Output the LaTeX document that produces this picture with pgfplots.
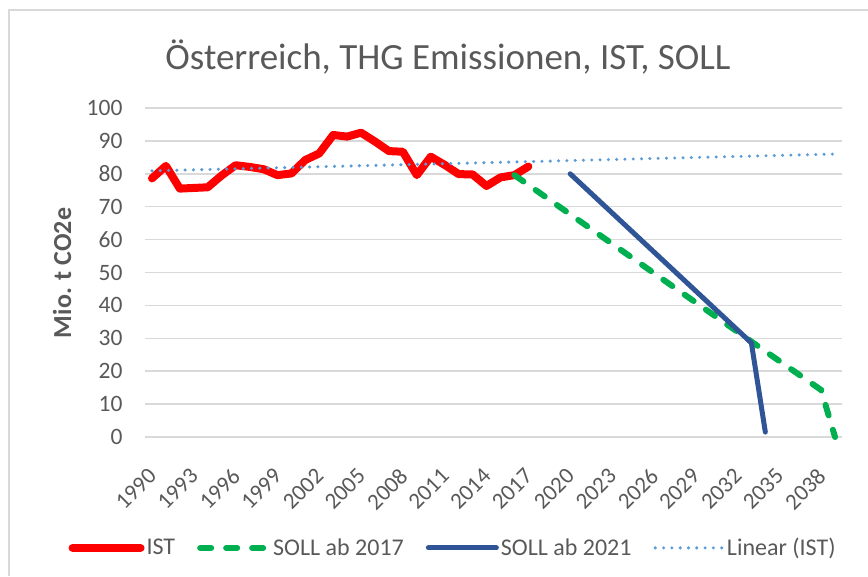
\documentclass[border=0pt]{standalone}
\usepackage{fontspec}
\setmainfont{Carlito}
\usepackage{pgfplots}
\pgfplotsset{compat=1.18}
\definecolor{txt}{HTML}{595959}
\definecolor{gridc}{HTML}{D9D9D9}
\definecolor{istred}{HTML}{FF0000}
\definecolor{sollgreen}{HTML}{00B050}
\definecolor{sollblue}{HTML}{2F5597}
\definecolor{trendc}{HTML}{5B9BD5}
\begin{document}
\begin{tikzpicture}
\path[use as bounding box] (0,0) rectangle (868pt,576pt);
\draw[gridc, line width=1.5pt] (9pt,0pt) -- (9pt,566pt) -- (868pt,566pt);
\node[txt, font=\fontsize{37}{44}\selectfont] at (448pt,519pt) {Österreich, THG Emissionen, IST, SOLL};
\node[txt, rotate=90, font=\fontsize{26}{31}\selectfont\bfseries] at (62pt,303pt) {Mio. t CO2e};
\begin{axis}[
  at={(145pt,139pt)}, anchor=south west,
  scale only axis, width=697pt, height=329pt,
  xmin=1989.5, xmax=2039.5, ymin=0, ymax=100,
  xtick={1990,1993,...,2038}, ytick={0,10,...,100},
  axis line style={draw=none},
  major tick length=0pt,
  ymajorgrids, grid style={gridc, line width=1.5pt},
  /pgf/number format/assume math mode=true,
  /pgf/number format/1000 sep={},
  yticklabel style={txt, font=\fontsize{23.5}{28}\selectfont, anchor=east, xshift=-19pt},
  xticklabel style={txt, font=\fontsize{23}{27}\selectfont, xshift=-5pt, yshift=-25pt, rotate=45, anchor=north east},
  clip=false,
  legend columns=4,
  legend style={at={(0.442,-0.337)}, anchor=center, draw=none, fill=none,
    font=\fontsize{24}{28}\selectfont, text=txt,
    /tikz/every even column/.append style={column sep=20pt}},
  legend image code/.code={\draw[#1] (0pt,0pt) -- (68pt,0pt);},
]
\addplot[istred, line width=8pt, line join=round, line cap=round] coordinates {
(1990,78.6) (1991,82.4) (1992,75.5) (1993,75.7) (1994,75.9) (1995,79.5)
(1996,82.6) (1997,82.1) (1998,81.4) (1999,79.6) (2000,80.1) (2001,84.2)
(2002,86.2) (2003,91.8) (2004,91.3) (2005,92.5) (2006,89.8) (2007,86.9)
(2008,86.7) (2009,79.6) (2010,85.2) (2011,82.7) (2012,79.9) (2013,79.8)
(2014,76.3) (2015,78.9) (2016,79.6) (2017,82.2)};
\addlegendentry{IST}
\addplot[sollgreen, line width=6pt, line cap=round, dash pattern=on 11pt off 15pt] coordinates {
(2016,79.6) (2033,29.0) (2038,14.3) (2039,0)};
\addlegendentry{SOLL ab 2017}
\addplot[sollblue, line width=5pt, line cap=round, line join=round] coordinates {
(2020,80.0) (2033,28.6) (2034,1.5)};
\addlegendentry{SOLL ab 2021}
\addplot[trendc, line width=3.4pt, line cap=round, dash pattern=on 0pt off 8.3pt] coordinates {
(1990,80.9) (2039,86.0)};
\addlegendentry{Linear (IST)}
\end{axis}
\end{tikzpicture}
\end{document}
